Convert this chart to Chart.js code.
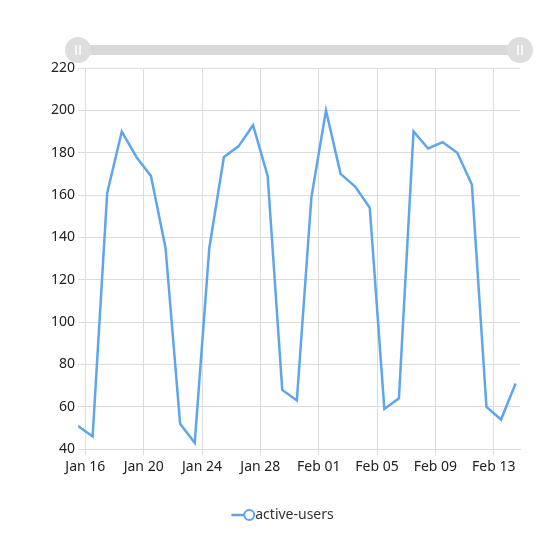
<!DOCTYPE html>
<html>
<head>
<meta charset="utf-8">
<script src="https://cdn.jsdelivr.net/npm/chart.js@4"></script>
<style>
  html, body { margin: 0; padding: 0; background: #fff; }
  #wrap { width: 550px; height: 550px; }
</style>
</head>
<body>
<div id="wrap"><canvas id="c"></canvas></div>
<script>
// days offset from Jan 16 (points sit half a day before each tick day)
const dayOffsets = [-0.5,0.5,1.5,2.5,3.5,4.5,5.5,6.5,7.5,8.5,9.5,10.5,11.5,12.5,13.5,14.5,15.5,16.5,17.5,18.5,19.5,20.5,21.5,22.5,23.5,24.5,25.5,26.5,27.5,28.5,29.5];
const activeUsers = [51,46,161,190,178,169,135,52,43,135,178,183,193,169,68,63,159,200,170,164,154,59,64,190,182,185,180,165,60,54,71];
const tickDays = [0,4,8,12,16,20,24,28];
const tickLabels = ['Jan 16','Jan 20','Jan 24','Jan 28','Feb 01','Feb 05','Feb 09','Feb 13'];

const lineColor = '#5ea5ec';
const font = { family: 'Noto Sans, Inter, sans-serif', size: 14 };

// zoom slider look at the top, plus legend marker circle
const sliderPlugin = {
  id: 'slider',
  afterDraw(chart) {
    const { ctx, chartArea } = chart;
    const y = 50, l = chartArea.left, r = chartArea.right;
    ctx.save();
    ctx.fillStyle = '#d9d9d9';
    ctx.fillRect(l, y - 5, r - l, 10);
    [l, r].forEach(x => {
      ctx.beginPath();
      ctx.arc(x, y, 13, 0, Math.PI * 2);
      ctx.fillStyle = '#dedede';
      ctx.fill();
      ctx.strokeStyle = '#ffffff';
      ctx.lineWidth = 1.5;
      ctx.beginPath();
      ctx.moveTo(x - 2, y - 5); ctx.lineTo(x - 2, y + 5);
      ctx.moveTo(x + 2, y - 5); ctx.lineTo(x + 2, y + 5);
      ctx.stroke();
    });
    const hit = chart.legend.legendHitBoxes[0];
    if (hit) {
      ctx.beginPath();
      ctx.arc(hit.left + 15, hit.top + hit.height / 2, 5, 0, Math.PI * 2);
      ctx.fillStyle = '#fff';
      ctx.fill();
      ctx.strokeStyle = lineColor;
      ctx.lineWidth = 2;
      ctx.stroke();
    }
    ctx.restore();
  }
};

new Chart(document.getElementById('c'), {
  type: 'line',
  data: {
    datasets: [{
      label: 'active-users',
      data: dayOffsets.map((d, i) => ({ x: d, y: activeUsers[i] })),
      borderColor: lineColor,
      backgroundColor: '#ffffff',
      borderWidth: 2.5,
      pointRadius: 0,
      tension: 0
    }]
  },
  options: {
    responsive: true,
    maintainAspectRatio: false,
    animation: false,
    layout: { padding: { top: 68, left: 48, right: 30, bottom: 18 } },
    plugins: {
      tooltip: { enabled: false },
      legend: {
        position: 'bottom',
        labels: {
          color: '#333',
          font,
          usePointStyle: true,
          pointStyle: 'line',
          boxWidth: 30,
          padding: 30,
          generateLabels: chart => [{
            text: 'active-users',
            strokeStyle: lineColor,
            fillStyle: lineColor,
            lineWidth: 2.5,
            pointStyle: 'line',
            fontColor: '#333'
          }]
        }
      }
    },
    scales: {
      x: {
        type: 'linear',
        min: -0.5,
        max: 29.8,
        afterBuildTicks: axis => { axis.ticks = tickDays.map(v => ({ value: v })); },
        ticks: {
          color: '#222',
          font,
          maxRotation: 0,
          callback: v => tickLabels[tickDays.indexOf(v)]
        },
        grid: { color: '#dcdcdc', drawTicks: true, tickLength: 6 },
        border: { color: '#dcdcdc' }
      },
      y: {
        min: 40,
        max: 220,
        ticks: { stepSize: 20, color: '#222', font },
        grid: { color: '#dcdcdc', drawTicks: false },
        border: { display: false }
      }
    }
  },
  plugins: [sliderPlugin]
});
</script>
</body>
</html>
